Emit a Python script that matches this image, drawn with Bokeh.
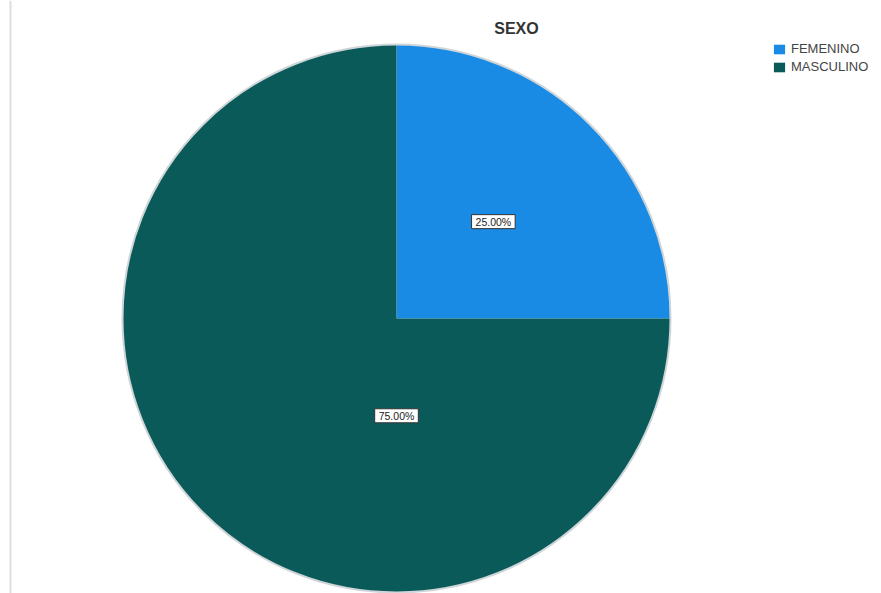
import numpy as np
from bokeh.plotting import figure
from bokeh.models import Range1d, ColumnDataSource, Label, Legend, LegendItem, Span
from bokeh.core.properties import value
from bokeh.embed import file_html
from bokeh.resources import INLINE

# ---- data ----
categories = ["FEMENINO", "MASCULINO"]
percentages = [25.00, 75.00]
label_texts = ["25.00%", "75.00%"]
colors = ["#1a8be4", "#0b5a5a"]
title_text = "SEXO"

# ---- layout ----
W, H = 881, 593
CX, CY, R = 396, H - 318, 274
label_anchor = [(45.0, 0.50), (270.0, 0.355)]  # (angle deg, fraction of radius)

frac = np.array(percentages) / sum(percentages)
cum = np.concatenate([[0.0], np.cumsum(frac)])
start = np.pi / 2 - 2 * np.pi * cum[1:]
end = np.pi / 2 - 2 * np.pi * cum[:-1]

src = ColumnDataSource(dict(
    cat=categories, start=start, end=end, color=colors,
    x=[CX] * len(categories), y=[CY] * len(categories),
))

lx = [CX + f * R * np.cos(np.radians(a)) for a, f in label_anchor]
ly = [CY + f * R * np.sin(np.radians(a)) for a, f in label_anchor]
lsrc = ColumnDataSource(dict(x=lx, y=ly, text=label_texts))

p = figure(width=W, height=H, x_range=Range1d(0, W), y_range=Range1d(0, H),
           output_backend="svg", toolbar_location=None, min_border=0)
p.axis.visible = False
p.grid.visible = False
p.outline_line_color = None
p.background_fill_color = "white"

wedges = p.wedge(x="x", y="y", radius=R, start_angle="start", end_angle="end",
                 fill_color="color", line_color=None, source=src)
p.circle(x=[CX], y=[CY], radius=R, fill_color=None, line_color="#cfd5d8", line_width=2)

p.text(x="x", y="y", text="text", source=lsrc, text_align="center", text_baseline="middle",
       text_font=value("Liberation Sans"), text_font_size="10.5px", text_color="#222222",
       background_fill_color="white", border_line_color="#333333", border_line_width=1,
       padding=(4, 1))

p.add_layout(Span(location=10, dimension="height", line_color="#dddddd", line_width=2))

p.add_layout(Label(x=516, y=H - 28, text=title_text, text_align="center", text_baseline="middle",
                   text_font="Liberation Sans", text_font_size="16px", text_font_style="bold",
                   text_color="#333333"))

legend = Legend(items=[LegendItem(label=c, renderers=[wedges], index=i) for i, c in enumerate(categories)],
                location=(772, H - 74), orientation="vertical", padding=0, spacing=3,
                glyph_width=14, glyph_height=12, label_height=12, label_standoff=5,
                label_text_font="Liberation Sans", label_text_font_size="13px",
                label_text_color="#444444", border_line_color=None, background_fill_alpha=0,
                margin=0)
p.add_layout(legend)

open("out.html", "w").write(file_html(p, INLINE))
